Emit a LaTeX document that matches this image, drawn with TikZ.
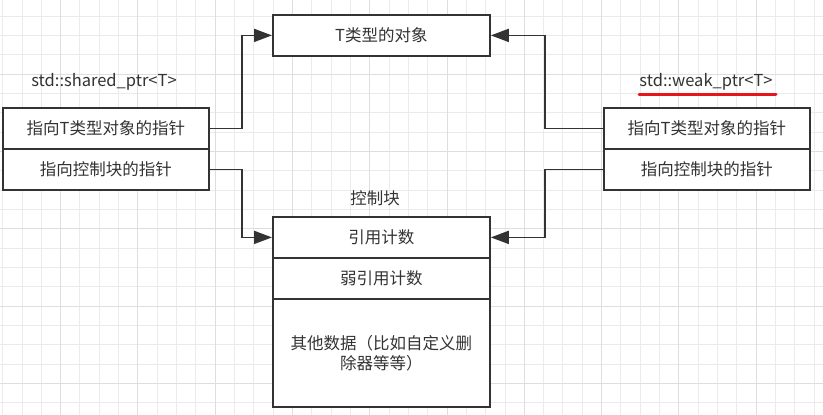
\documentclass[tikz,border=0pt]{standalone}
\usepackage{fontspec}
\setmainfont{Noto Sans CJK SC}
\usetikzlibrary{arrows.meta}
\definecolor{ln}{HTML}{333333}
\definecolor{txt}{HTML}{333333}
\definecolor{gminor}{HTML}{EBEBEB}
\definecolor{gmajor}{HTML}{DEDEDE}
\definecolor{redline}{HTML}{E8141C}
\begin{document}
\begin{tikzpicture}[x=1pt,y=-1pt,
  box/.style={draw=ln, line width=1.8pt, fill=white, minimum width=206pt,
    minimum height=41pt, inner sep=0pt, text=txt, anchor=north west,
    font=\fontsize{16.5}{20}\selectfont, align=center},
  wbox/.style={box, minimum width=217pt},
  lbl/.style={text=txt, inner sep=0pt, font=\fontsize{16.5}{20}\selectfont},
  conn/.style={draw=ln, line width=1.8pt, -{Triangle[length=18pt,width=13pt]}}]
\useasboundingbox (0,0) rectangle (823,415);
\fill[white] (0,0) rectangle (823,415);
% grid
\foreach \i in {0,...,42} {\draw[gminor, line width=1pt] ({2.7+19.32*\i},0) -- ({2.7+19.32*\i},415);}
\foreach \j in {1,...,21} {\draw[gminor, line width=1pt] (0,{-3+19.32*\j}) -- (823,{-3+19.32*\j});}
\foreach \i in {3,7,...,43} {\draw[gmajor, line width=1pt] ({2.7+19.32*\i},0) -- ({2.7+19.32*\i},415);}
\foreach \j in {4,8,...,20} {\draw[gmajor, line width=1pt] (0,{-3+19.32*\j}) -- (823,{-3+19.32*\j});}
% boxes
\node[box] (lp1) at (2,107) {指向T类型对象的指针};
\node[box] (lp2) at (2,148) {指向控制块的指针};
\node[box] (rp1) at (603,107) {指向T类型对象的指针};
\node[box] (rp2) at (603,148) {指向控制块的指针};
\node[wbox] (tobj) at (272,14) {T类型的对象};
\node[wbox] (c1) at (272,216) {引用计数};
\node[wbox] (c2) at (272,257) {弱引用计数};
\node[wbox, minimum height=108pt] (c3) at (272,298) {其他数据（比如自定义删\\除器等等）};
% labels
\node[lbl] (shared) at (104,82) {std::shared\_ptr<T>};
\node[lbl] (weak) at (706,82) {std::weak\_ptr<T>};
\node[lbl] (ctrl) at (375,198) {控制块};
\draw[redline, line width=3pt, line cap=round] (639,94) -- (776,94);
% connectors
\draw[conn] (lp1.east) -- ++(32,0) |- (tobj.west);
\draw[conn] (lp2.east) -- ++(32,0) |- (c1.west);
\draw[conn] (rp1.west) -- ++(-58,0) |- (tobj.east);
\draw[conn] (rp2.west) -- ++(-58,0) |- (c1.east);
\end{tikzpicture}
\end{document}
